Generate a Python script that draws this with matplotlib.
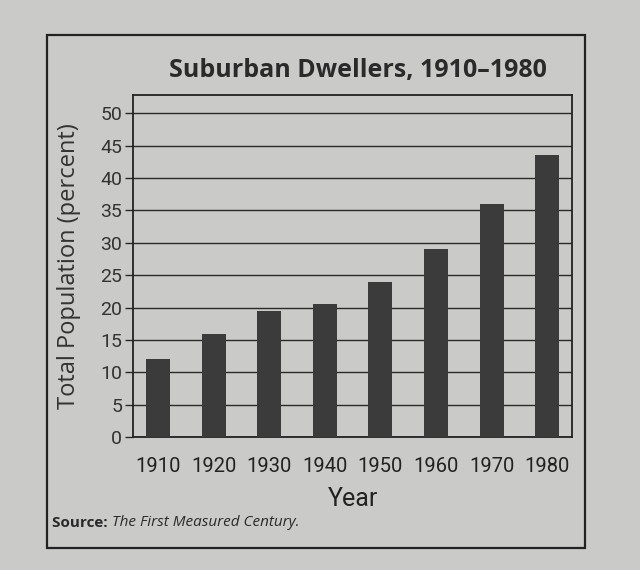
import matplotlib
matplotlib.use("Agg")
import matplotlib.pyplot as plt
from matplotlib.patches import Rectangle

# data
years = ["1910", "1920", "1930", "1940", "1950", "1960", "1970", "1980"]
percent = [12, 16, 19.5, 20.5, 24, 29, 36, 43.5]
yticks = [0, 5, 10, 15, 20, 25, 30, 35, 40, 45, 50]

page = "#cacac8"
bar_col = "#3b3b3b"
narrow = ["Roboto", "DejaVu Sans"]
wide = ["Open Sans", "DejaVu Sans"]

fig = plt.figure(figsize=(6.4, 5.7), dpi=100, facecolor=page)

# outer frame around the whole figure box
fig.patches.append(Rectangle((0.073, 0.039), 0.841, 0.899, transform=fig.transFigure,
                             fill=False, edgecolor="#222222", linewidth=1.6))

ax = fig.add_axes([0.208, 0.233, 0.686, 0.600])
ax.set_facecolor(page)

x = list(range(len(years)))
ax.bar(x, percent, width=0.43, color=bar_col, zorder=3)

ax.set_xlim(-0.45, len(years) - 0.55)
ax.set_ylim(0, 52.8)
ax.set_yticks(yticks)
ax.set_yticklabels([str(v) for v in yticks], family=narrow, fontsize=14, color="#333333")
ax.set_xticks(x)
ax.set_xticklabels(years, family=narrow, fontsize=14.5, color="#222222")

ax.yaxis.grid(True, color="#2a2a2a", linewidth=1.0, zorder=1)
ax.tick_params(axis="y", length=6, width=1.0, color="#2a2a2a", pad=2)
ax.tick_params(axis="x", length=0, pad=14)
for s in ax.spines.values():
    s.set_color("#222222")
    s.set_linewidth(1.3)

ax.set_ylabel("Total Population (percent)", family=wide, fontsize=17, color="#333333", labelpad=14)
ax.set_xlabel("Year", family=narrow, fontsize=18, color="#222222", labelpad=8)

fig.text(0.559, 0.877, "Suburban Dwellers, 1910\u20131980", ha="center", va="center",
         family=wide, fontweight="bold", fontsize=18, color="#2a2a2a")

src = fig.text(0.082, 0.075, "Source: ", family=wide, fontweight="bold",
               fontsize=11, color="#2a2a2a", va="baseline")
ax.annotate("The First Measured Century.", xy=(1, 0), xycoords=src, va="bottom",
            family=wide, style="italic", fontsize=11, color="#2a2a2a",
            annotation_clip=False)

fig.savefig("out.png", dpi=100, facecolor=page)
